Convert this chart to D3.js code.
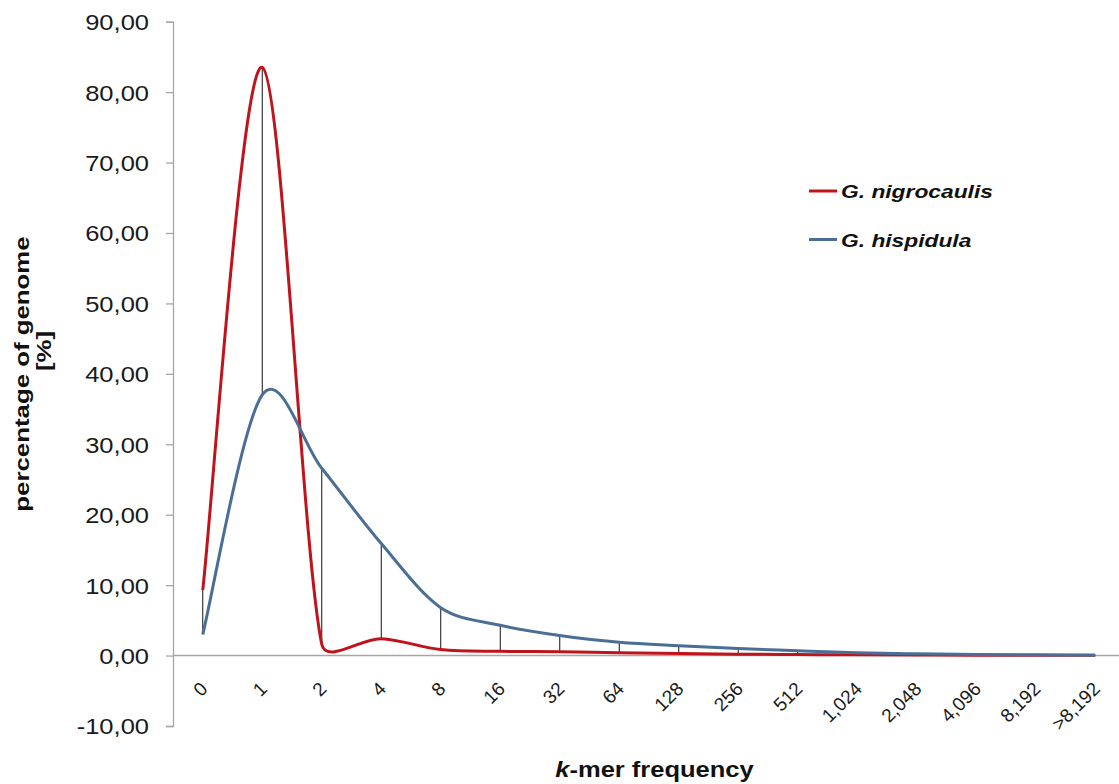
<!DOCTYPE html>
<html>
<head>
<meta charset="utf-8">
<script src="https://cdn.jsdelivr.net/npm/d3@7"></script>
<style>
  body { margin: 0; background: #fff; }
  svg text { font-family: "Liberation Sans", Arial, sans-serif; }
</style>
</head>
<body>
<svg id="chart" width="1119" height="784"></svg>
<script>
// k-mer frequency classes
var categories = ["0", "1", "2", "4", "8", "16", "32", "64", "128", "256", "512",
                  "1,024", "2,048", "4,096", "8,192", ">8,192"];
// percentage of genome
var nigrocaulis = [9.3, 83.5, 1.6, 2.4, 0.85, 0.6, 0.55, 0.4, 0.3, 0.2, 0.15, 0.1, 0.07, 0.05, 0.05, 0.05];
var hispidula   = [3.0, 37.0, 26.6, 15.9, 6.8, 4.3, 2.85, 1.9, 1.4, 1.0, 0.7, 0.4, 0.25, 0.15, 0.1, 0.05];
var yTicks = [-10, 0, 10, 20, 30, 40, 50, 60, 70, 80, 90];

var svg = d3.select("#chart");
var stretch = 1.16;   // the original text is drawn a bit wide

var x = d3.scalePoint()
    .domain(categories)
    .range([202.75, 1095.25]);

var y = d3.scaleLinear()
    .domain([-10, 90])
    .range([726, 21.7]);

var fmt = function(d) { return d3.format(".2f")(d).replace(".", ",").replace("\u2212", "-"); };

// y axis
var yAxis = svg.append("g")
    .attr("transform", "translate(173,0)")
    .call(d3.axisLeft(y).tickValues(yTicks).tickFormat(fmt).tickSize(7));
yAxis.select(".domain").attr("stroke", "#a6a6a6").attr("stroke-width", 1.3);
yAxis.selectAll(".tick line").attr("stroke", "#a6a6a6").attr("stroke-width", 1.3);
yAxis.selectAll(".tick text")
    .attr("x", -24 / stretch)
    .attr("dy", "0.36em")
    .attr("transform", "scale(" + stretch + ",1)")
    .attr("font-size", 22)
    .attr("fill", "#1a1a1a")
    .style("font-family", "'Liberation Sans', Arial, sans-serif");

// x axis line at zero
svg.append("line")
    .attr("x1", 173).attr("x2", 1119)
    .attr("y1", y(0)).attr("y2", y(0))
    .attr("stroke", "#a6a6a6").attr("stroke-width", 1.6);

// x tick labels, rotated
svg.append("g").selectAll("text")
    .data(categories)
    .enter().append("text")
    .attr("transform", function(d) { return "translate(" + (x(d) + 6) + ",690) rotate(-45)"; })
    .attr("text-anchor", "end")
    .attr("font-size", 19)
    .attr("fill", "#1a1a1a")
    .text(function(d) { return d; });

// high-low drop lines between the two series
svg.append("g").selectAll("line")
    .data(categories)
    .enter().append("line")
    .attr("x1", function(d) { return x(d); })
    .attr("x2", function(d) { return x(d); })
    .attr("y1", function(d, i) { return y(Math.max(nigrocaulis[i], hispidula[i])); })
    .attr("y2", function(d, i) { return y(Math.min(nigrocaulis[i], hispidula[i])); })
    .attr("stroke", "#111")
    .attr("stroke-width", 1);

// spreadsheet-like smoothing: bezier handles of 1/6 of neighbour span,
// capped on short segments so the curve doesn't overshoot much
function smoothPath(values) {
    var pts = values.map(function(v, i) { return [x(categories[i]), y(v)]; });
    var n = pts.length, p = d3.path();
    var tan = pts.map(function(pt, i) {
        var a = pts[Math.max(i - 1, 0)], b = pts[Math.min(i + 1, n - 1)];
        return [(b[0] - a[0]) / 6, (b[1] - a[1]) / 6];
    });
    function cap(v, d) {
        var l = Math.hypot(v[0], v[1]);
        var s = l > d * 0.35 ? d * 0.35 / l : 1;
        return [v[0] * s, v[1] * s];
    }
    p.moveTo(pts[0][0], pts[0][1]);
    for (var i = 0; i < n - 1; i++) {
        var d = Math.hypot(pts[i + 1][0] - pts[i][0], pts[i + 1][1] - pts[i][1]);
        var t1 = cap(tan[i], d), t2 = cap(tan[i + 1], d);
        p.bezierCurveTo(pts[i][0] + t1[0], pts[i][1] + t1[1],
                        pts[i + 1][0] - t2[0], pts[i + 1][1] - t2[1],
                        pts[i + 1][0], pts[i + 1][1]);
    }
    return p.toString();
}

var series = [
    { name: "G. nigrocaulis", values: nigrocaulis, color: "#c0141c" },
    { name: "G. hispidula", values: hispidula, color: "#4a6e96" }
];

svg.append("g").selectAll("path")
    .data(series)
    .enter().append("path")
    .attr("d", function(d) { return smoothPath(d.values); })
    .attr("fill", "none")
    .attr("stroke", function(d) { return d.color; })
    .attr("stroke-width", 3)
    .attr("stroke-linejoin", "round");

// legend
var legend = svg.append("g").selectAll("g")
    .data(series)
    .enter().append("g")
    .attr("transform", function(d, i) { return "translate(809," + (191 + i * 48.5) + ")"; });
legend.append("line")
    .attr("x1", 0).attr("x2", 28)
    .attr("stroke", function(d) { return d.color; })
    .attr("stroke-width", 3);
legend.append("text")
    .attr("transform", "translate(32,7) scale(1.2,1)")
    .attr("font-size", 19)
    .attr("font-weight", "bold")
    .attr("font-style", "italic")
    .attr("fill", "#111")
    .text(function(d) { return d.name; });

// axis titles
svg.append("text")
    .attr("transform", "translate(29,374) rotate(-90) scale(1.23,1)")
    .attr("text-anchor", "middle")
    .attr("font-size", 21)
    .attr("font-weight", "bold")
    .attr("fill", "#111")
    .text("percentage of genome");
svg.append("text")
    .attr("transform", "translate(51,351) rotate(-90) scale(1.23,1)")
    .attr("text-anchor", "middle")
    .attr("font-size", 21)
    .attr("font-weight", "bold")
    .attr("fill", "#111")
    .text("[%]");

var xTitle = svg.append("text")
    .attr("transform", "translate(654.5,777) scale(" + stretch + ",1)")
    .attr("text-anchor", "middle")
    .attr("font-size", 22)
    .attr("font-weight", "bold")
    .attr("fill", "#111");
xTitle.append("tspan").attr("font-style", "italic").text("k");
xTitle.append("tspan").text("-mer frequency");
</script>
</body>
</html>
